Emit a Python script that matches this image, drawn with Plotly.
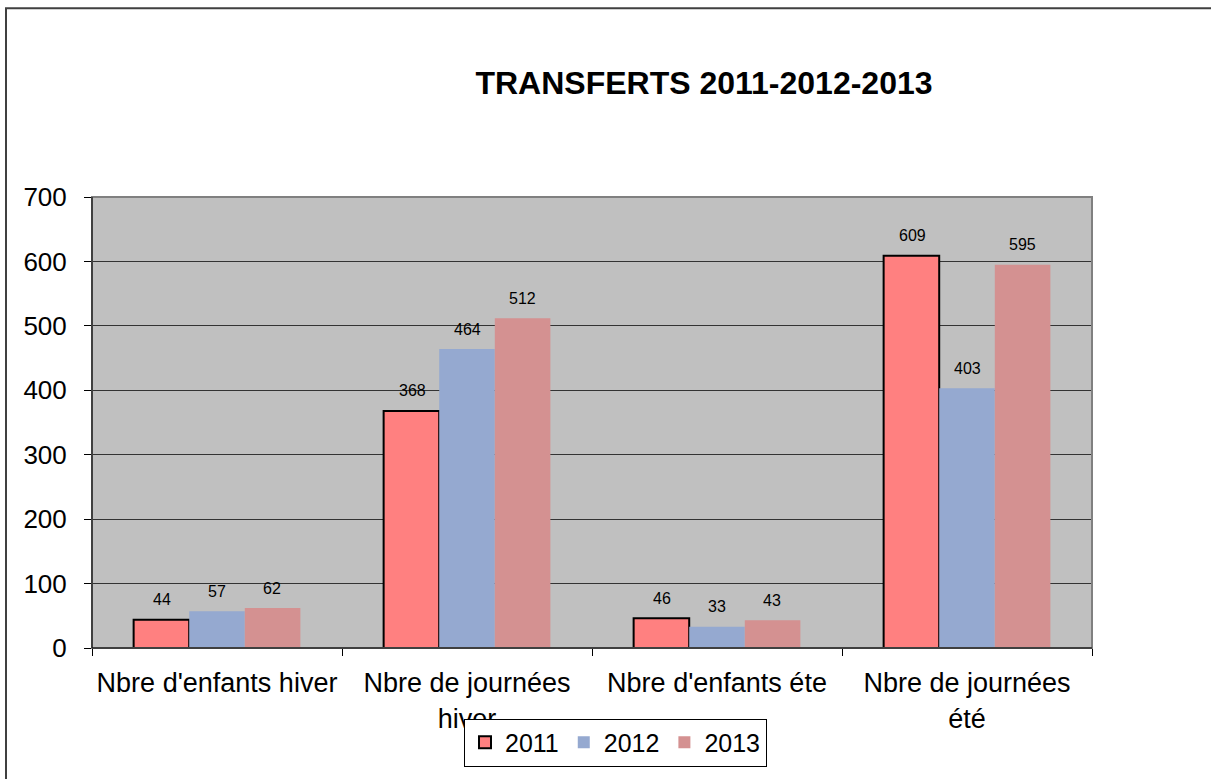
import plotly.graph_objects as go

categories = ["Nbre d'enfants hiver", "Nbre de journées<br>hiver", "Nbre d'enfants éte", "Nbre de journées<br>été"]
series_names = ["2011", "2012", "2013"]
values_2011 = [44, 368, 46, 609]
values_2012 = [57, 464, 33, 403]
values_2013 = [62, 512, 43, 595]
y_ticks = [0, 100, 200, 300, 400, 500, 600, 700]

colors = ["#FF8080", "#95A9D0", "#D49191"]
line_widths = [2, 0, 0]
all_values = [values_2011, values_2012, values_2013]

FONT = "Liberation Sans, Arial, sans-serif"

fig = go.Figure()
for name, vals, col, lw in zip(series_names, all_values, colors, line_widths):
    fig.add_trace(go.Bar(
        name=name, x=categories, y=vals,
        marker=dict(color=col, line=dict(color="black", width=lw)),
    ))

# data labels above bars
bar_px = 55
offsets = [-bar_px, 0, bar_px]
annotations = []
for vals, off in zip(all_values, offsets):
    for cat, v in zip(categories, vals):
        annotations.append(dict(
            x=cat, y=v, xref="x", yref="y", text=str(v), showarrow=False,
            xshift=off, yshift=20, yanchor="middle",
            font=dict(family=FONT, size=16, color="black"),
        ))

fig.update_layout(
    width=1211, height=779,
    margin=dict(l=92, r=119, t=197, b=128),
    paper_bgcolor="white", plot_bgcolor="#C0C0C0",
    font=dict(family=FONT, color="black"),
    barmode="group", bargap=0.333, bargroupgap=0,
    title=dict(text="<b>TRANSFERTS 2011-2012-2013</b>", x=704/1211, xanchor="center",
               y=1 - 83/779, yanchor="middle", font=dict(family=FONT, size=32, color="black")),
    showlegend=True,
    legend=dict(orientation="h", x=(464 - 92) / 1000, xanchor="left", y=(651 - 722) / 454, yanchor="top",
                bgcolor="white", bordercolor="black", borderwidth=1,
                font=dict(family=FONT, size=25, color="black"), itemwidth=30,
                tracegroupgap=0, traceorder="normal"),
    annotations=annotations,
    xaxis=dict(showgrid=False, showline=True, linecolor="black", linewidth=1,
               ticks="outside", ticklen=7, tickcolor="black", tickson="boundaries",
               ticklabelstandoff=11,
               tickfont=dict(family=FONT, size=27, color="black")),
    yaxis=dict(range=[0, 700], tickvals=y_ticks, showgrid=True, gridcolor="#333333", gridwidth=1,
               showline=True, linecolor="black", linewidth=1, zeroline=False,
               ticks="outside", ticklen=7, tickcolor="black", ticklabelstandoff=12,
               tickfont=dict(family=FONT, size=26, color="black")),
    shapes=[
        dict(type="rect", xref="paper", yref="paper", x0=0, x1=1, y0=0, y1=1,
             line=dict(color="#808080", width=2), layer="above"),
        dict(type="line", xref="paper", yref="paper", x0=0, x1=0, y0=0, y1=1,
             line=dict(color="black", width=1), layer="above"),
        dict(type="line", xref="paper", yref="paper", x0=0, x1=1, y0=0, y1=0,
             line=dict(color="black", width=1), layer="above"),
        dict(type="rect", xref="paper", yref="paper", x0=(6 - 92) / 1000, x1=1.2,
             y0=-0.5, y1=(651 - 7) / 454, line=dict(color="#404040", width=2), layer="below"),
    ],
)

fig.write_html("out.html", config={"displayModeBar": False},
               post_script="document.body.style.margin='0px';document.body.style.overflow='hidden';")
